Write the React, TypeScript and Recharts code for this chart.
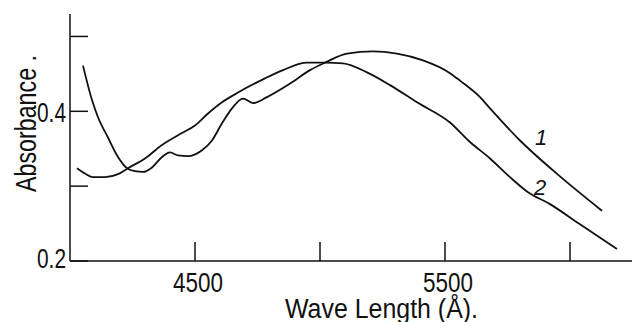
import { Line, LineChart, ReferenceDot, XAxis, YAxis } from "recharts";

// curve 1: the one that starts high at the short-wave end
const WAVELENGTH_1 = [
  4052, 4088, 4112, 4152, 4192, 4228, 4260, 4292, 4328, 4368, 4400, 4432,
  4472, 4528, 4568, 4608, 4648, 4692, 4732, 4788, 4880, 4960, 5020, 5108,
  5212, 5308, 5412, 5520, 5560, 5640, 5680, 5800, 5932, 6128,
];
const ABSORBANCE_1 = [
  0.461, 0.415, 0.392, 0.365, 0.339, 0.324, 0.32, 0.319, 0.325, 0.339, 0.345,
  0.341, 0.34, 0.348, 0.361, 0.384, 0.404, 0.417, 0.411, 0.419, 0.437, 0.455,
  0.465, 0.477, 0.48, 0.477, 0.468, 0.451, 0.441, 0.419, 0.404, 0.361, 0.321,
  0.267,
];

// curve 2
const WAVELENGTH_2 = [
  4028, 4060, 4092, 4140, 4192, 4232, 4300, 4368, 4448, 4500, 4552, 4608,
  4672, 4780, 4852, 4948, 5020, 5092, 5188, 5280, 5388, 5520, 5600, 5680,
  5760, 5832, 5920, 6040, 6188,
];
const ABSORBANCE_2 = [
  0.324, 0.317, 0.312, 0.312, 0.316, 0.324, 0.337, 0.355, 0.371, 0.381, 0.397,
  0.412, 0.425, 0.444, 0.455, 0.465, 0.465, 0.464, 0.452, 0.435, 0.412, 0.385,
  0.359, 0.337, 0.312, 0.292, 0.276, 0.249, 0.216,
];

const X_TICKS = [4500, 5000, 5500, 6000];
const X_LABELED = [4500, 5500];
const Y_TICKS = [0.2, 0.3, 0.4, 0.5];
const Y_LABELED = [0.2, 0.4];

const CURVE_NAMES = ["1", "2"];
const CURVE_NAME_X = [5884, 5880];
const CURVE_NAME_Y = [0.365, 0.299];

// the original lettering is tall and narrow, so glyphs get squeezed with textLength
const FONT = '"Liberation Sans", Arial, sans-serif';
const INK = "#111";

const toPoints = (xs: number[], ys: number[]) =>
  xs.map((w, i) => ({ w, a: ys[i] }));

function XTick({ x, y, payload }: any) {
  const v = payload.value;
  return (
    <g>
      <line x1={x} y1={y} x2={x} y2={y - 19} stroke={INK} strokeWidth={1.5} />
      {X_LABELED.includes(v) ? (
        <text
          x={x - 22}
          y={y + 31}
          textLength={50}
          lengthAdjust="spacingAndGlyphs"
          fontFamily={FONT}
          fontSize={27}
          fill={INK}
        >
          {v}
        </text>
      ) : null}
    </g>
  );
}

function YTick({ x, y, payload }: any) {
  const v = payload.value;
  return (
    <g>
      <line x1={x} y1={y} x2={x + 18} y2={y} stroke={INK} strokeWidth={1.5} />
      {Y_LABELED.includes(v) ? (
        <text
          x={x - 33}
          y={v === 0.2 ? y + 7 : y + 11}
          textLength={29}
          lengthAdjust="spacingAndGlyphs"
          fontFamily={FONT}
          fontSize={27}
          fill={INK}
        >
          {v.toFixed(1)}
        </text>
      ) : null}
    </g>
  );
}

export default function App() {
  const curve1 = toPoints(WAVELENGTH_1, ABSORBANCE_1);
  const curve2 = toPoints(WAVELENGTH_2, ABSORBANCE_2);

  return (
    <div style={{ position: "absolute", left: 0, top: 0, background: "#fff" }}>
      <LineChart
        width={632}
        height={322}
        margin={{ top: 14, right: 0, bottom: 0, left: 0 }}
      >
        <XAxis
          type="number"
          dataKey="w"
          domain={[4000, 6248]}
          ticks={X_TICKS}
          interval={0}
          height={61}
          tickSize={0}
          tickMargin={0}
          tickLine={false}
          tick={<XTick />}
          axisLine={{ stroke: INK, strokeWidth: 1.5 }}
          allowDataOverflow
        />
        <YAxis
          type="number"
          dataKey="a"
          domain={[0.2, 0.53]}
          ticks={Y_TICKS}
          interval={0}
          width={70}
          tickSize={0}
          tickMargin={0}
          tickLine={false}
          tick={<YTick />}
          axisLine={{ stroke: INK, strokeWidth: 1.5 }}
          allowDataOverflow
        />
        <Line
          data={curve1}
          dataKey="a"
          type="monotone"
          stroke={INK}
          strokeWidth={1.8}
          dot={false}
          isAnimationActive={false}
        />
        <Line
          data={curve2}
          dataKey="a"
          type="monotone"
          stroke={INK}
          strokeWidth={1.8}
          dot={false}
          isAnimationActive={false}
        />
        {CURVE_NAMES.map((name, i) => (
          <ReferenceDot
            key={name}
            x={CURVE_NAME_X[i]}
            y={CURVE_NAME_Y[i]}
            r={0}
            fill="none"
            stroke="none"
            label={{
              value: name,
              position: "center",
              fontFamily: FONT,
              fontSize: 22,
              fontStyle: "italic",
              fill: INK,
            }}
          />
        ))}
      </LineChart>
      <svg
        width={632}
        height={322}
        style={{ position: "absolute", left: 0, top: 0, pointerEvents: "none" }}
      >
        <text
          transform="translate(36,192) rotate(-90)"
          textLength={137}
          lengthAdjust="spacingAndGlyphs"
          fontFamily={FONT}
          fontSize={29}
          fill={INK}
        >
          Absorbance .
        </text>
        <text
          x={285}
          y={318}
          textLength={193}
          lengthAdjust="spacingAndGlyphs"
          fontFamily={FONT}
          fontSize={27}
          fill={INK}
        >
          Wave Length (Å).
        </text>
      </svg>
    </div>
  );
}
